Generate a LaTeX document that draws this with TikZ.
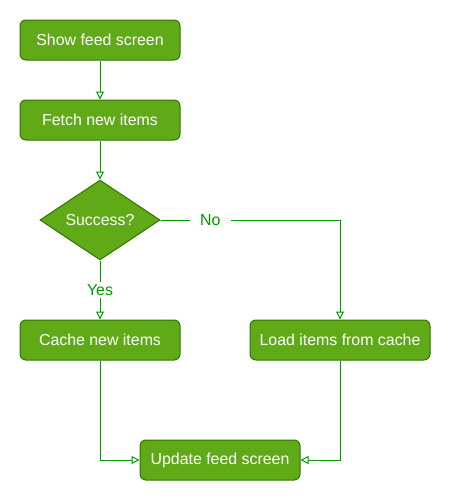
\documentclass[tikz,border=0pt]{standalone}
\usepackage{fontspec}
\setmainfont{Liberation Sans}
\usetikzlibrary{arrows.meta,shapes.geometric}
\definecolor{boxfill}{HTML}{60A917}
\definecolor{boxline}{HTML}{2D7600}
\definecolor{edgecol}{HTML}{009900}
\tikzset{
  stepbox/.style={draw=boxline, fill=boxfill, line width=1pt, rounded corners=6pt,
    text=white, font=\fontsize{15.9}{18}\selectfont, inner sep=0pt, anchor=center},
  decision/.style={diamond, draw=boxline, fill=boxfill, line width=1pt, text=white,
    font=\fontsize{15.9}{18}\selectfont, inner sep=0pt, minimum width=120pt, minimum height=80pt, aspect=1.5},
  flow/.style={draw=edgecol, line width=1pt, -{Triangle[open,length=8pt,width=8pt]}},
  lbl/.style={text=edgecol, fill=white, font=\fontsize{15.9}{18}\selectfont, inner xsep=10pt, inner ysep=2pt}
}
\begin{document}
\begin{tikzpicture}[x=1pt,y=-1pt]
\useasboundingbox (0,0) rectangle (451,501);
\node[stepbox, minimum width=160pt, minimum height=40pt] (show) at (100,40) {Show feed screen};
\node[stepbox, minimum width=160pt, minimum height=40pt] (fetch) at (100,120) {Fetch new items};
\node[decision] (succ) at (100,220) {Success?};
\node[stepbox, minimum width=160pt, minimum height=40pt] (cache) at (100,340) {Cache new items};
\node[stepbox, minimum width=180pt, minimum height=40pt] (load) at (340,340) {Load items from cache};
\node[stepbox, minimum width=160pt, minimum height=40pt] (update) at (220,460) {Update feed screen};
\coordinate (nocorner) at (340,220);
\coordinate (lc) at (100,460);
\coordinate (rc) at (340,460);
\draw[flow] (show.south) -- (fetch.north);
\draw[flow] (fetch.south) -- (succ.north);
\draw[flow] (succ.south) -- node[lbl, pos=0.5] (yes) {Yes} (cache.north);
\draw[flow] (succ.east) -- node[lbl, pos=0.278] (no) {No} (nocorner) -- (load.north);
\draw[flow] (cache.south) -- (lc) -- (update.west);
\draw[flow] (load.south) -- (rc) -- (update.east);
\end{tikzpicture}
\end{document}
